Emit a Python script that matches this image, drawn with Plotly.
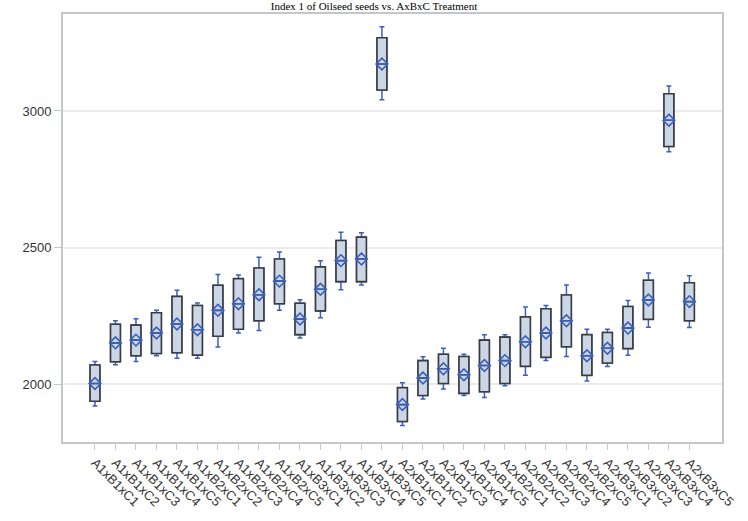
import plotly.graph_objects as go

# Treatment combinations (factor A x factor B x factor C)
groups = [f"A{a}xB{b}xC{c}" for a in (1, 2) for b in (1, 2, 3) for c in (1, 2, 3, 4, 5)]

# Five-number summaries and means of Index 1 for each combination
whisker_low = [1920, 2071, 2083, 2104, 2095, 2095, 2136, 2187, 2196, 2270,
               2169, 2243, 2345, 2363, 3041,
               1848, 1945, 1982, 1958, 1951, 1994, 2032, 2086, 2101, 2011,
               2064, 2106, 2208, 2851, 2207]
q1 = [1937, 2082, 2104, 2112, 2115, 2106, 2175, 2201, 2232, 2294,
      2181, 2268, 2375, 2375, 3077,
      1863, 1958, 2002, 1966, 1972, 2002, 2065, 2098, 2137, 2032,
      2077, 2130, 2237, 2870, 2232]
means = [2002, 2151, 2161, 2187, 2220, 2199, 2270, 2294, 2327, 2377,
         2238, 2347, 2452, 2458, 3172,
         1925, 2022, 2056, 2034, 2068, 2086, 2155, 2187, 2232, 2104,
         2131, 2205, 2308, 2966, 2302]
q3 = [2070, 2219, 2216, 2261, 2321, 2288, 2362, 2386, 2425, 2458,
      2296, 2429, 2526, 2538, 3268,
      1987, 2086, 2109, 2101, 2161, 2172, 2246, 2276, 2326, 2181,
      2189, 2284, 2380, 3063, 2371]
whisker_high = [2083, 2232, 2239, 2270, 2344, 2297, 2401, 2399, 2464, 2484,
                2309, 2452, 2556, 2554, 3308,
                2005, 2100, 2131, 2109, 2181, 2181, 2282, 2288, 2363, 2201,
                2201, 2306, 2407, 3091, 2397]
medians = means

y_ticks = [2000, 2500, 3000]

BLUE = "#3a5fbf"
OUTLINE = "#3c3c3c"
FILL = "#cbd6e7"
FRAME = "#c3c7cb"

fig = go.Figure()

# Whiskers with caps (blue)
fig.add_trace(go.Box(
    x=groups, q1=q1, median=medians, q3=q3,
    lowerfence=whisker_low, upperfence=whisker_high,
    line=dict(color=BLUE, width=1.5), fillcolor="rgba(0,0,0,0)",
    width=0.48, whiskerwidth=0.5, boxpoints=False,
    showlegend=False, hoverinfo="skip",
))

# Interquartile boxes (dark outline, light fill) drawn over the whiskers
fig.add_trace(go.Box(
    x=groups, q1=q1, median=medians, q3=q3,
    lowerfence=q1, upperfence=q3,
    line=dict(color=OUTLINE, width=1.6), fillcolor=FILL,
    width=0.48, whiskerwidth=0, boxpoints=False,
    showlegend=False, hoverinfo="skip",
))

# Median line in blue
fig.add_trace(go.Scatter(
    x=groups, y=medians, mode="markers",
    marker=dict(symbol="line-ew-open", size=8, color=BLUE,
                line=dict(color=BLUE, width=1.5)),
    showlegend=False, hoverinfo="skip",
))

# Mean markers
fig.add_trace(go.Scatter(
    x=groups, y=means, mode="markers",
    marker=dict(symbol="diamond-open", size=9, color=BLUE, line=dict(color=BLUE, width=1.6)),
    showlegend=False,
))

fig.update_layout(
    width=748, height=521, autosize=False,
    margin=dict(l=63, r=13, t=13, b=69),
    paper_bgcolor="white", plot_bgcolor="white",
    boxmode="overlay",
    title=dict(
        text="Index 1 of Oilseed seeds vs. AxBxC Treatment",
        x=0.5, xanchor="center", y=0.995, yref="container", yanchor="top",
        pad=dict(t=0, b=0),
        font=dict(family="Liberation Serif", size=11, color="black"),
    ),
    font=dict(family="Liberation Sans", size=13, color="#333333"),
)

fig.update_xaxes(
    type="category", categoryorder="array", categoryarray=groups,
    range=[-1.56, 30.59],
    tickangle=45, tickfont=dict(size=13, color="#333333"),
    ticks="outside", ticklen=6, tickcolor=FRAME, tickwidth=1,
    showline=True, linecolor=FRAME, linewidth=2, mirror=True,
    showgrid=False, zeroline=False,
)

fig.update_yaxes(
    range=[1788, 3355],
    tickvals=y_ticks, ticktext=[str(v) for v in y_ticks],
    tickfont=dict(size=13, color="#333333"),
    ticks="outside", ticklen=7, tickcolor=FRAME, tickwidth=1,
    showline=True, linecolor=FRAME, linewidth=2, mirror=True,
    showgrid=True, gridcolor="#ebebeb", gridwidth=1.5,
    zeroline=False,
)

fig.write_html("out.html")
